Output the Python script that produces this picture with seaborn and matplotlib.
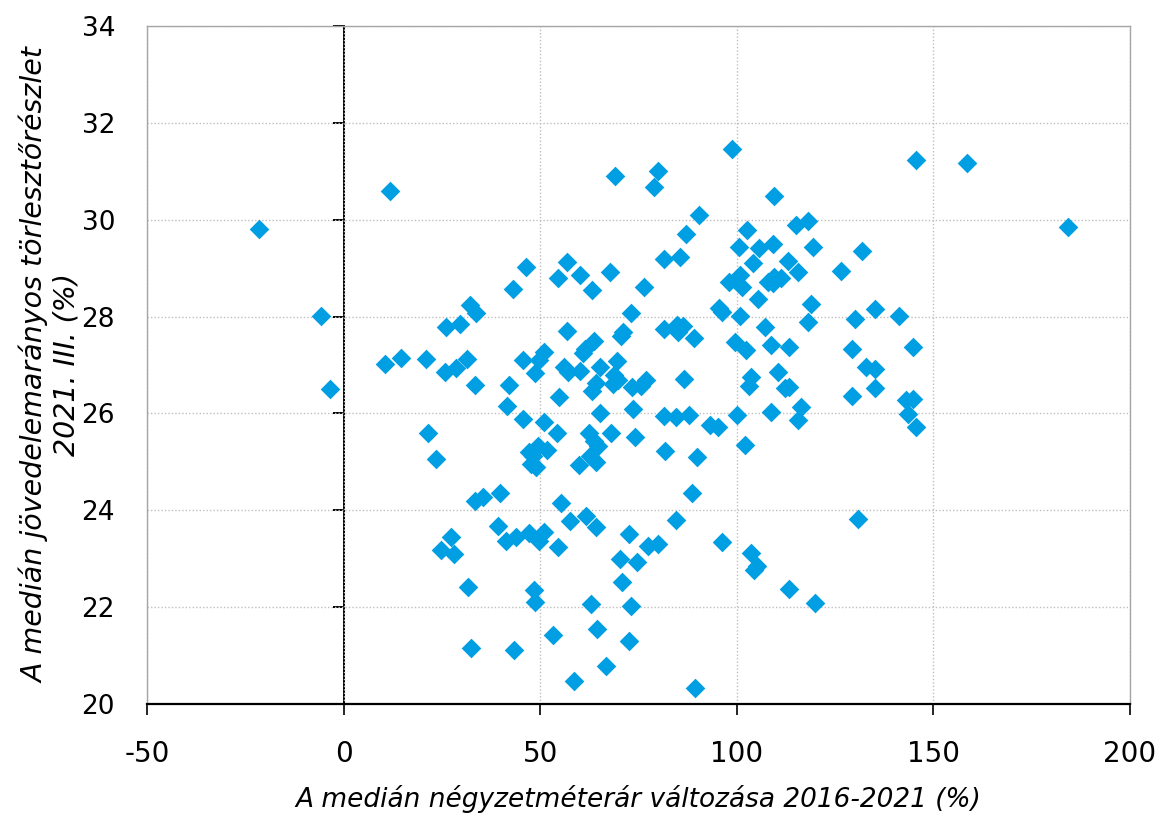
import numpy as np
import pandas as pd
import matplotlib
matplotlib.use("Agg")
import matplotlib.pyplot as plt
import seaborn as sns

# median price change per sqm 2016-2021 (%) and median payment-to-income ratio 2021 Q3 (%)
price_change = [
    -21.5, -5.7, -3.5, 11.8, 10.6, 14.7, 20.9, 25.9, 28.7, 31.4, 33.4, 26.0, 29.6, 32.1, 33.7,
    21.6, 23.6, 33.5, 35.4, 27.3, 24.7, 28.1, 31.7, 32.3,
    69.0, 80.0, 78.9, 98.9, 109.6, 90.5, 87.1, 81.4, 85.7, 102.7, 100.5, 105.6, 109.2, 115.0,
    113.0, 115.5, 104.1, 46.3, 43.1, 56.8, 54.6, 60.1, 63.1, 67.7, 76.5, 73.1, 95.6, 96.2,
    100.8, 105.4, 98.0, 100.9, 101.4, 107.9, 109.6, 111.3, 109.3,
    145.7, 158.5, 184.3, 118.1, 119.3, 131.9, 126.6, 119.0, 135.1, 130.1, 141.4, 118.2,
    113.4, 129.3, 144.8, 132.9, 135.1, 135.2, 129.3, 113.4, 116.4, 115.7, 143.1, 144.9,
    143.6, 145.5, 130.8, 113.4, 119.9,
    39.2, 41.2, 43.9, 47.1, 51.1, 49.8, 54.6, 55.3, 57.6, 61.7, 64.1, 84.6, 72.5, 77.5, 79.9,
    70.4, 74.6, 70.8, 96.3, 103.7, 105.1, 104.5, 48.4, 48.8, 63.0, 73.0, 53.4, 64.4, 72.5,
    43.3, 66.8, 58.7, 89.5,
    56.9, 70.6, 71.2, 81.4, 84.8, 86.3, 85.0, 89.1, 107.3, 99.5, 102.4, 108.6, 63.8, 61.5,
    61.0, 45.6, 50.9, 49.8, 48.8, 56.0, 57.0, 60.2, 65.3, 69.5, 68.9, 68.6, 69.7, 73.3, 77.0,
    75.7, 86.6, 63.2, 64.1, 54.9, 42.0, 41.5, 45.6, 51.1, 54.2, 65.3, 73.7, 81.4, 84.6, 87.8,
    93.1, 95.2, 100.1, 108.6, 103.7, 103.1, 110.6, 112.2, 74.2, 68.0, 62.5, 63.7, 64.7, 64.2,
    62.7, 60.0, 47.1, 49.4, 51.8, 48.3, 49.0, 47.8, 81.8, 89.8, 102.1, 88.6, 39.9,
]
payment_ratio = [
    29.81, 28.01, 26.50, 30.59, 27.03, 27.15, 27.12, 26.86, 26.93, 27.12, 26.59, 27.79, 27.85, 28.24, 28.07,
    25.60, 25.05, 24.20, 24.27, 23.45, 23.18, 23.09, 22.41, 21.16,
    30.91, 31.01, 30.68, 31.45, 30.48, 30.10, 29.70, 29.18, 29.22, 29.78, 29.44, 29.42, 29.49, 29.90,
    29.15, 28.92, 29.10, 29.02, 28.56, 29.13, 28.80, 28.85, 28.55, 28.91, 28.62, 28.07, 28.18, 28.10,
    28.02, 28.36, 28.71, 28.86, 28.60, 28.72, 28.82, 28.79, 28.69,
    31.24, 31.17, 29.84, 29.98, 29.44, 29.36, 28.93, 28.26, 28.16, 27.94, 28.02, 27.88,
    27.38, 27.33, 27.38, 26.95, 26.92, 26.52, 26.35, 26.54, 26.14, 25.86, 26.28, 26.29,
    25.99, 25.71, 23.81, 22.37, 22.08,
    23.68, 23.37, 23.44, 23.54, 23.56, 23.37, 23.24, 24.15, 23.78, 23.88, 23.65, 23.80, 23.50, 23.26, 23.30,
    23.00, 22.93, 22.52, 23.35, 23.11, 22.85, 22.77, 22.35, 22.11, 22.06, 22.03, 21.43, 21.54, 21.30,
    21.12, 20.79, 20.48, 20.33,
    27.71, 27.60, 27.68, 27.74, 27.83, 27.81, 27.69, 27.56, 27.79, 27.47, 27.31, 27.41, 27.50, 27.32,
    27.25, 27.10, 27.27, 27.10, 26.84, 26.96, 26.86, 26.88, 26.95, 27.09, 26.79, 26.61, 26.69, 26.54, 26.69,
    26.57, 26.71, 26.47, 26.62, 26.33, 26.59, 26.15, 25.88, 25.83, 25.59, 26.00, 26.09, 25.95, 25.92, 25.96,
    25.76, 25.71, 25.97, 26.02, 26.76, 26.57, 26.86, 26.52, 25.52, 25.59, 25.59, 25.42, 25.33, 25.00,
    25.11, 24.94, 25.21, 25.32, 25.25, 25.11, 24.90, 24.96, 25.22, 25.09, 25.35, 24.35, 24.35,
]

df = pd.DataFrame({"x": price_change, "y": payment_ratio})

sns.set_style("white")
plt.rcParams["axes.unicode_minus"] = False
plt.rcParams["text.color"] = "black"
plt.rcParams["axes.labelcolor"] = "black"
plt.rcParams["xtick.color"] = "black"
plt.rcParams["ytick.color"] = "black"

fig = plt.figure(figsize=(11.6, 8.16), dpi=100)
ax = fig.add_axes([0.1267, 0.1373, 0.8473, 0.8309])

sns.scatterplot(data=df, x="x", y="y", marker="D", s=100, color="#009FE3",
                linewidth=0, ax=ax, zorder=3)

ax.set_xlim(-50, 200)
ax.set_ylim(20, 34)
ax.set_xticks(np.arange(-50, 201, 50))
ax.set_yticks(np.arange(20, 35, 2))
ax.grid(True, color="#BFBFBF", linestyle=(0, (1, 1.5)), linewidth=1)

for side in ["left", "right", "top"]:
    ax.spines[side].set_color("#A6A6A6")
    ax.spines[side].set_linewidth(1)
ax.spines["bottom"].set_color("black")
ax.spines["bottom"].set_linewidth(1.6)

ax.tick_params(axis="x", direction="out", length=8, width=1.2, color="black",
               pad=18, labelsize=20, bottom=True)
ax.tick_params(axis="y", length=0, pad=23, labelsize=19)

# vertical axis drawn at x = 0
yax0 = ax.secondary_yaxis(0.2)
yax0.spines["left"].set_color("black")
yax0.spines["left"].set_linewidth(1.4)
yax0.set_yticks(np.arange(20, 35, 2))
yax0.tick_params(axis="y", direction="out", length=8, width=1.4, labelleft=False)

ax.set_xlabel("A medián négyzetméterár változása 2016-2021 (%)", fontsize=19,
              style="italic", labelpad=12)
ax.set_ylabel("A medián jövedelemarányos törlesztőrészlet\n2021. III. (%)", fontsize=20.5,
              style="italic", labelpad=1, linespacing=1.1)

fig.savefig("out.png", dpi=100)
